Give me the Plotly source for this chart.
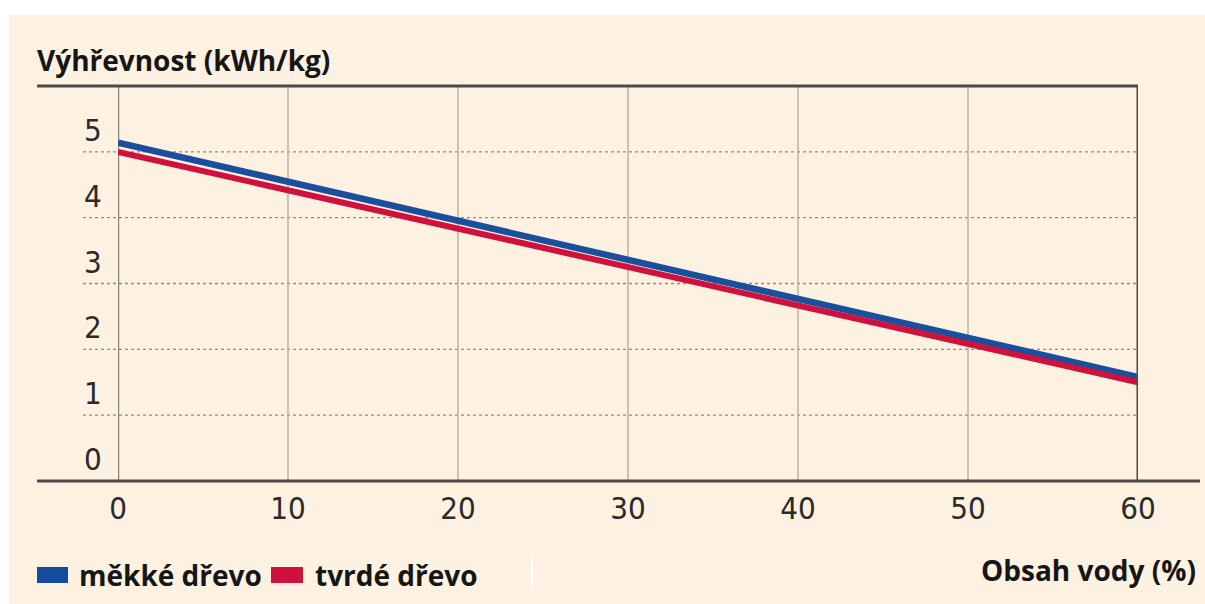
import plotly.graph_objects as go

# Water content of wood (%) and net calorific value (kWh/kg)
water_content = [0, 60]
softwood = [5.14, 1.58]
hardwood = [5.0, 1.5]

y_ticks = [0, 1, 2, 3, 4, 5]
x_ticks = [0, 10, 20, 30, 40, 50, 60]

W, H = 1205, 604
L, R, T, B = 118, 1138, 86, 481  # plot-area edges in pixels


def px(x):
    return (x - L) / (R - L)


def py(y):
    return (B - y) / (B - T)


CREAM = "#fdf1e2"
DARK = "#4d4a47"
TEXT = "#161616"
NARROW = "Liberation Sans Narrow, DejaVu Sans Condensed, Arial Narrow, sans-serif"
BOLD = "Open Sans, Lato, sans-serif"

fig = go.Figure()

fig.add_trace(go.Scatter(x=water_content, y=softwood, mode="lines",
                         line=dict(color="#1a4f9b", width=6.5),
                         name="měkké dřevo", hoverinfo="skip"))
fig.add_trace(go.Scatter(x=water_content, y=hardwood, mode="lines",
                         line=dict(color="#d0113e", width=6),
                         name="tvrdé dřevo", hoverinfo="skip"))

shapes = []
# cream panel
shapes.append(dict(type="rect", xref="paper", yref="paper", layer="below",
                   x0=px(9), x1=px(W + 5), y0=py(H + 5), y1=py(15),
                   fillcolor=CREAM, line=dict(width=0)))
# dotted horizontal grid
for v in y_ticks[1:]:
    shapes.append(dict(type="line", xref="paper", yref="y", layer="below",
                       x0=px(83), x1=1.0, y0=v, y1=v,
                       line=dict(color="#8f8a85", width=1.3, dash="dot")))
# vertical grid
for v in x_ticks[1:-1]:
    shapes.append(dict(type="line", xref="x", yref="paper", layer="below",
                       x0=v, x1=v, y0=0, y1=1,
                       line=dict(color="#b9b1a8", width=1.5)))
shapes.append(dict(type="line", xref="x", yref="paper", layer="below",
                   x0=0, x1=0, y0=0, y1=1,
                   line=dict(color="#8c857d", width=2.5)))
shapes.append(dict(type="line", xref="x", yref="paper", layer="above",
                   x0=60, x1=60, y0=0, y1=1,
                   line=dict(color=DARK, width=3)))
# top and bottom frame lines
shapes.append(dict(type="line", xref="paper", yref="paper",
                   x0=px(37), x1=1.0, y0=1, y1=1,
                   line=dict(color=DARK, width=3)))
shapes.append(dict(type="line", xref="paper", yref="paper",
                   x0=px(37), x1=px(1200), y0=0, y1=0,
                   line=dict(color=DARK, width=3)))
# legend swatches
shapes.append(dict(type="rect", xref="paper", yref="paper",
                   x0=px(37), x1=px(68), y0=py(583), y1=py(567),
                   fillcolor="#114d9c", line=dict(width=0)))
shapes.append(dict(type="rect", xref="paper", yref="paper",
                   x0=px(271), x1=px(303), y0=py(583), y1=py(567),
                   fillcolor="#d0113e", line=dict(width=0)))
shapes.append(dict(type="line", xref="paper", yref="paper",
                   x0=px(532), x1=px(532), y0=py(590), y1=py(555),
                   line=dict(color="#ffffff", width=2)))

annotations = []
for v in y_ticks:
    annotations.append(dict(xref="paper", yref="y", x=px(104), y=v,
                            yshift=22, text=str(v), showarrow=False,
                            xanchor="right", yanchor="middle",
                            font=dict(family=NARROW, size=31, color="#2a2a2a")))
annotations.append(dict(xref="paper", yref="paper", x=px(35), y=py(60),
                        text="<b>Výhřevnost (kWh/kg)</b>", showarrow=False,
                        xanchor="left", yanchor="middle",
                        font=dict(family=BOLD, size=28, color=TEXT)))
annotations.append(dict(xref="paper", yref="paper", x=px(1198), y=py(570),
                        text="<b>Obsah vody (%)</b>", showarrow=False,
                        xanchor="right", yanchor="middle",
                        font=dict(family=BOLD, size=28, color=TEXT)))
annotations.append(dict(xref="paper", yref="paper", x=px(77), y=py(575),
                        text="<b>měkké dřevo</b>", showarrow=False,
                        xanchor="left", yanchor="middle",
                        font=dict(family=BOLD, size=28, color=TEXT)))
annotations.append(dict(xref="paper", yref="paper", x=px(313), y=py(575),
                        text="<b>tvrdé dřevo</b>", showarrow=False,
                        xanchor="left", yanchor="middle",
                        font=dict(family=BOLD, size=28, color=TEXT)))

fig.update_layout(
    width=W, height=H,
    margin=dict(l=L, r=W - R, t=T, b=H - B, pad=0),
    paper_bgcolor="#ffffff",
    plot_bgcolor="rgba(0,0,0,0)",
    showlegend=False,
    shapes=shapes,
    annotations=annotations,
    xaxis=dict(range=[0, 60], tickvals=x_ticks, showgrid=False, zeroline=False,
               showline=False, ticks="", ticklabelstandoff=6,
               tickfont=dict(family=NARROW, size=31, color="#2a2a2a"),
               fixedrange=True),
    yaxis=dict(range=[0, 6], showgrid=False, zeroline=False, showline=False,
               showticklabels=False, ticks="", fixedrange=True),
)

fig.write_html("out.html")
